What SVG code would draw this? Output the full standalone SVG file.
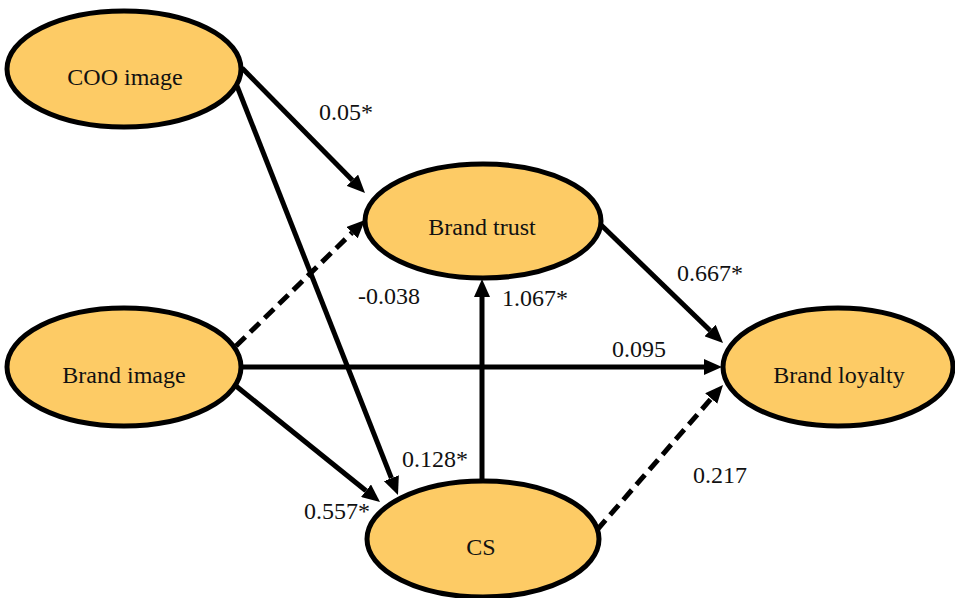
<svg xmlns="http://www.w3.org/2000/svg" width="955" height="598" viewBox="0 0 955 598">
<style>
.node{fill:#FDCB65;stroke:#000;stroke-width:5}
.lbl{font-family:'Liberation Serif', 'DejaVu Serif', serif;font-size:24px;fill:#111;text-anchor:middle}
.edge{stroke:#000;stroke-width:5;fill:none;marker-end:url(#ah)}
.dash{stroke-dasharray:13 7}
</style>
<defs>
<marker id="ah" viewBox="0 0 18 16" refX="0" refY="8" markerWidth="18" markerHeight="16" markerUnits="userSpaceOnUse" orient="auto">
<path d="M0,0 L18,8 L0,16 z" fill="#000"/>
</marker>
</defs>
<rect width="955" height="598" fill="#fff"/>
<g id="connectors">
<line class="edge" x1="242" y1="68" x2="352.4" y2="180.2"/>
<line class="edge" x1="237" y1="86" x2="391.4" y2="478.2"/>
<line class="edge dash" x1="236" y1="346" x2="352.1" y2="232.6"/>
<line class="edge" x1="241" y1="367" x2="704" y2="367"/>
<line class="edge" x1="236" y1="386" x2="366" y2="490.7"/>
<line class="edge" x1="482" y1="480" x2="482" y2="297"/>
<line class="edge" x1="598" y1="222" x2="710.1" y2="330.5"/>
<line class="edge dash" x1="597" y1="530" x2="711.2" y2="398.6"/>
</g>
<g id="edge-labels">
<text class="lbl" x="346" y="120">0.05*</text>
<text class="lbl" x="389" y="304">-0.038</text>
<text class="lbl" x="535" y="306">1.067*</text>
<text class="lbl" x="710" y="281">0.667*</text>
<text class="lbl" x="639" y="357">0.095</text>
<text class="lbl" x="720" y="483">0.217</text>
<text class="lbl" x="435" y="467">0.128*</text>
<text class="lbl" x="337" y="519">0.557*</text>
</g>
<g id="coo-image">
<ellipse class="node" cx="124" cy="69" rx="117" ry="58"/>
<text class="lbl" x="125" y="85">COO image</text>
</g>
<g id="brand-image">
<ellipse class="node" cx="124" cy="367" rx="117" ry="59"/>
<text class="lbl" x="124" y="383">Brand image</text>
</g>
<g id="brand-trust">
<ellipse class="node" cx="483" cy="221" rx="118" ry="57"/>
<text class="lbl" x="482" y="235">Brand trust</text>
</g>
<g id="cs">
<ellipse class="node" cx="483" cy="539" rx="116" ry="58"/>
<text class="lbl" x="481" y="555">CS</text>
</g>
<g id="brand-loyalty">
<ellipse class="node" cx="838" cy="367" rx="115" ry="59"/>
<text class="lbl" x="839" y="383">Brand loyalty</text>
</g>
</svg>
